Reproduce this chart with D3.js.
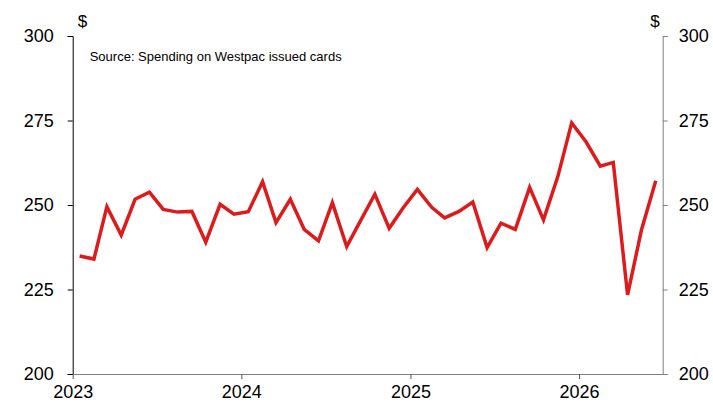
<!DOCTYPE html>
<html>
<head>
<meta charset="utf-8">
<script src="https://cdn.jsdelivr.net/npm/d3@7"></script>
<style>
  body { margin: 0; background: #fff; }
  svg { display: block; font-family: "Liberation Sans", Arial, sans-serif; }
</style>
</head>
<body>
<div id="wrapper"></div>
<script>
// monthly card spending, Jan 2023 - Jun 2026
const startMonth = "2023-01";
const spending = [
  234.9, 234.0, 249.5, 241.1, 251.7, 253.8, 248.7, 247.9, 248.1, 239.0, 250.2, 247.3,
  248.0, 256.9, 244.8, 251.7, 242.8, 239.4, 250.7, 237.7, 245.6, 253.2, 243.1, 249.1,
  254.6, 249.3, 246.2, 248.1, 250.9, 237.4, 244.6, 242.8, 255.2, 245.6, 258.4, 274.3,
  268.7, 261.5, 262.6, 223.4, 242.6, 257.2
];
const yTicks = [200, 225, 250, 275, 300];
const xTickYears = [2023, 2024, 2025, 2026];
const sourceNote = "Source: Spending on Westpac issued cards";

const monthParser = d3.timeParse("%Y-%m");
const start = monthParser(startMonth);
const data = spending.map((v, i) => ({
  date: d3.timeDay.offset(d3.timeMonth.offset(start, i), 15),
  value: v
}));

const dimension = {
  width: 713,
  height: 405,
  margin: { top: 36, left: 72.7, bottom: 31, right: 50.3 }
};
dimension.boundedWidth = dimension.width - dimension.margin.left - dimension.margin.right;
dimension.boundedHeight = dimension.height - dimension.margin.top - dimension.margin.bottom;

const svg = d3.select("#wrapper").append("svg")
  .attr("width", dimension.width)
  .attr("height", dimension.height);

const bounded = svg.append("g")
  .attr("transform", `translate(${dimension.margin.left},${dimension.margin.top})`);

const xScaler = d3.scaleTime()
  .domain([start, d3.timeMonth.offset(start, spending.length)])
  .range([0, dimension.boundedWidth]);

const yScaler = d3.scaleLinear()
  .domain([200, 300])
  .range([dimension.boundedHeight, 0]);

// left axis, black
const leftAxis = bounded.append("g")
  .call(d3.axisLeft(yScaler).tickValues(yTicks).tickSize(5).tickPadding(14));
leftAxis.selectAll("path, line").attr("stroke", "#000");
leftAxis.selectAll("text").attr("fill", "#000").style("font-size", "18px");

// right axis, grey
const rightAxis = bounded.append("g")
  .attr("transform", `translate(${dimension.boundedWidth},0)`)
  .call(d3.axisRight(yScaler).tickValues(yTicks).tickSize(5).tickPadding(11));
rightAxis.selectAll("path, line").attr("stroke", "#808080");
rightAxis.selectAll("text").attr("fill", "#000").style("font-size", "18px");

// bottom axis
const bottomAxis = bounded.append("g")
  .attr("transform", `translate(0,${dimension.boundedHeight})`)
  .call(d3.axisBottom(xScaler)
    .tickValues(xTickYears.map(y => new Date(y, 0, 1)))
    .tickFormat(d3.timeFormat("%Y"))
    .tickSizeInner(5).tickSizeOuter(0).tickPadding(6));
bottomAxis.select("path").attr("stroke", "#808080");
bottomAxis.selectAll("line").attr("stroke", "#555");
bottomAxis.selectAll("text").attr("fill", "#000").style("font-size", "18px");

// unit labels
bounded.append("text")
  .attr("x", 5).attr("y", -9)
  .style("font-size", "17px")
  .text("$");
bounded.append("text")
  .attr("x", dimension.boundedWidth - 3).attr("y", -9)
  .attr("text-anchor", "end")
  .style("font-size", "17px")
  .text("$");

bounded.append("text")
  .attr("x", 17).attr("y", 24.5)
  .style("font-size", "13px")
  .text(sourceNote);

const lineGen = d3.line()
  .x(d => xScaler(d.date))
  .y(d => yScaler(d.value));

bounded.append("path")
  .attr("d", lineGen(data))
  .attr("fill", "none")
  .attr("stroke", "#dc1c1c")
  .attr("stroke-width", 3.5)
  .attr("stroke-linejoin", "miter");
</script>
</body>
</html>
